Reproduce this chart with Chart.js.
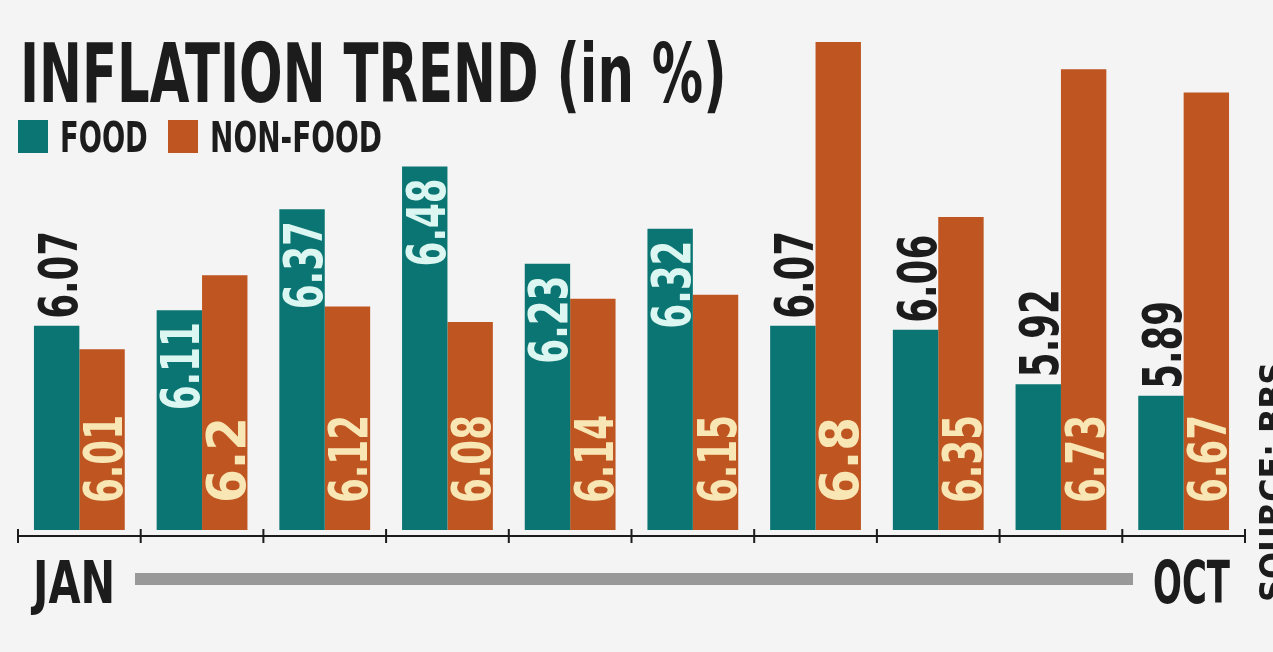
<!DOCTYPE html>
<html>
<head>
<meta charset="utf-8">
<title>Inflation trend</title>
<script src="https://cdn.jsdelivr.net/npm/chart.js@4"></script>
<style>
    html, body { margin: 0; padding: 0; background: #f4f4f4; }
    #wrap { position: relative; width: 1273px; height: 652px; overflow: hidden; }
    #chart { position: absolute; left: 0; top: 0; }
    .cond {
        position: absolute;
        font-family: "Liberation Sans Narrow", "DejaVu Sans Condensed", "DejaVu Sans", sans-serif;
        font-stretch: condensed;
        font-weight: bold;
        color: #1c1c1c;
        white-space: nowrap;
        line-height: 1;
        transform-origin: 0 0;
    }
    .swatch { position: absolute; }
    #line { position: absolute; left: 135px; top: 573px; width: 998px; height: 12px; background: #999999; }
</style>
</head>
<body>
<div id="wrap">
    <canvas id="chart" width="1273" height="652"></canvas>
    <div class="cond" id="title" data-w="707">INFLATION TREND (in %)</div>
    <div class="swatch" style="left:18px;top:120px;width:30px;height:33px;background:#0a7572"></div>
    <div class="cond" id="lgFood" data-w="88">FOOD</div>
    <div class="swatch" style="left:168px;top:120px;width:30px;height:33px;background:#bf5520"></div>
    <div class="cond" id="lgNon" data-w="172">NON-FOOD</div>
    <div class="cond" id="jan" data-w="82">JAN</div>
    <div id="line"></div>
    <div class="cond" id="oct" data-w="77">OCT</div>
    <div class="cond" id="source" data-w="240">SOURCE: BBS</div>
</div>
<script>
// Monthly inflation, Jan..Oct
const months = ['JAN', 'FEB', 'MAR', 'APR', 'MAY', 'JUN', 'JUL', 'AUG', 'SEP', 'OCT'];
const foodValues = [6.07, 6.11, 6.37, 6.48, 6.23, 6.32, 6.07, 6.06, 5.92, 5.89];
const nonFoodValues = [6.01, 6.2, 6.12, 6.08, 6.14, 6.15, 6.8, 6.35, 6.73, 6.67];
const seriesNames = ['FOOD', 'NON-FOOD'];

const TEAL = '#0a7572';
const ORANGE = '#bf5520';
const LABEL_FONT = 'bold 54px "Liberation Sans Narrow", "DejaVu Sans Condensed", sans-serif';

// place a condensed text element: top-left + cap height, then squeeze to the target width
function placeText(id, left, capTop, capHeight) {
    const el = document.getElementById(id);
    const size = capHeight / 0.73;
    el.style.fontSize = size + 'px';
    const natural = el.offsetWidth;
    const sx = parseFloat(el.dataset.w) / natural;
    // line-height 1: cap top sits about 0.117em below the box top
    el.style.left = left + 'px';
    el.style.top = (capTop - size * 0.117) + 'px';
    el.style.transform = 'scaleX(' + sx + ')';
}

// rotated value labels on each bar
const valueLabels = {
    id: 'valueLabels',
    afterDatasetsDraw(chart) {
        const ctx = chart.ctx;
        const base = chart.chartArea.bottom;
        ctx.save();
        ctx.font = LABEL_FONT;
        chart.data.datasets.forEach((ds, di) => {
            const meta = chart.getDatasetMeta(di);
            meta.data.forEach((bar, i) => {
                const v = ds.data[i];
                const text = String(v);
                const natural = ctx.measureText(text).width;
                const len = Math.min(natural, 88);
                let y, align, color;
                if (di === 0) {
                    if (v >= 6.1) {
                        y = bar.y + 12; align = 'right'; color = '#dcf6f1';
                    } else {
                        y = bar.y - 7; align = 'left'; color = '#1c1c1c';
                    }
                } else {
                    y = base - 27; align = 'left'; color = '#f8e6b4';
                }
                ctx.save();
                ctx.translate(bar.x, y);
                ctx.rotate(-Math.PI / 2);
                ctx.scale(len / natural, 1);
                ctx.fillStyle = color;
                ctx.textAlign = align;
                ctx.textBaseline = 'alphabetic';
                ctx.fillText(text, 0, 20);
                ctx.restore();
            });
        });
        ctx.restore();
    }
};

// axis line with tick marks at category boundaries
const baseAxis = {
    id: 'baseAxis',
    afterDraw(chart) {
        const ctx = chart.ctx;
        const x = chart.scales.x;
        const y0 = chart.chartArea.bottom + 6;
        const step = x.getPixelForValue(1) - x.getPixelForValue(0);
        ctx.save();
        ctx.strokeStyle = '#1c1c1c';
        ctx.lineWidth = 2;
        ctx.beginPath();
        ctx.moveTo(chart.chartArea.left, y0);
        ctx.lineTo(chart.chartArea.right, y0);
        for (let i = 0; i <= months.length; i++) {
            const px = x.getPixelForValue(0) - step / 2 + i * step;
            ctx.moveTo(px, y0 - 7);
            ctx.lineTo(px, y0 + 7);
        }
        ctx.stroke();
        ctx.restore();
    }
};

new Chart(document.getElementById('chart'), {
    type: 'bar',
    data: {
        labels: months,
        datasets: [
            { label: seriesNames[0], data: foodValues, backgroundColor: TEAL },
            { label: seriesNames[1], data: nonFoodValues, backgroundColor: ORANGE }
        ]
    },
    options: {
        responsive: false,
        animation: false,
        layout: { padding: { left: 18, right: 28, top: 42, bottom: 122 } },
        datasets: { bar: { categoryPercentage: 0.74, barPercentage: 1.0 } },
        plugins: { legend: { display: false }, tooltip: { enabled: false } },
        scales: {
            x: { display: false },
            y: { display: false, min: 5.545, max: 6.8 }
        }
    },
    plugins: [valueLabels, baseAxis]
});

placeText('title', 20, 43, 60);
placeText('lgFood', 60, 122, 31);
placeText('lgNon', 210, 122, 31);
placeText('jan', 33, 561, 43);
placeText('oct', 1153, 561, 43);

// source note runs bottom to top at the right edge
const src = document.getElementById('source');
src.style.fontSize = (26 / 0.73) + 'px';
const srcW = src.offsetWidth;
src.style.transform = 'translate(1255px, 602px) rotate(-90deg) scaleX(' + (240 / srcW) + ')';
src.style.left = '0px';
src.style.top = '0px';
</script>
</body>
</html>
